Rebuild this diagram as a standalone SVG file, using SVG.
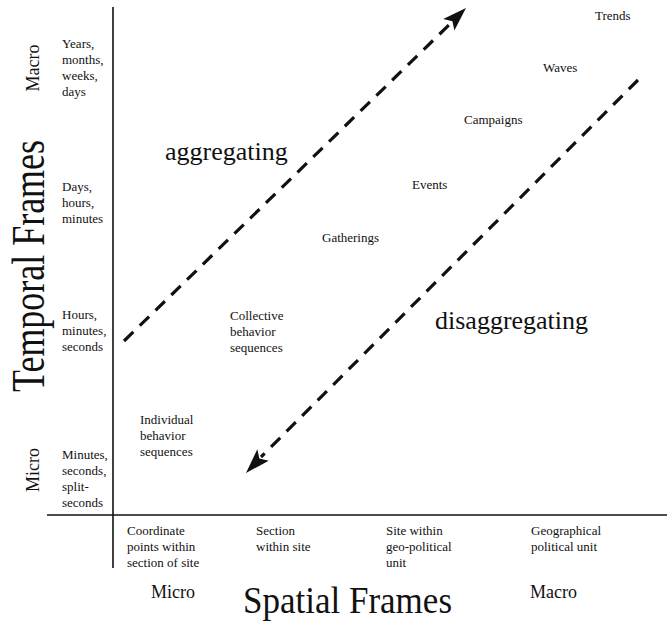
<svg xmlns="http://www.w3.org/2000/svg" width="667" height="622" viewBox="0 0 667 622">
<style>
text{font-family:"Liberation Serif","Times New Roman",serif;fill:#111}
.s{font-size:13px}
.m{font-size:18px}
.b{font-size:26px}
.ax{stroke:#111;stroke-width:1.6;fill:none}
.dash{stroke:#111;stroke-width:3.2;stroke-dasharray:13,9;fill:none}
.head{fill:#111}
</style>
<rect width="667" height="622" fill="#fff"/>
<g id="axes">
<line class="ax" x1="113" y1="7" x2="113" y2="568"/>
<line class="ax" x1="47" y1="515" x2="667" y2="515"/>
</g>
<g id="connectors">
<line class="dash" x1="124" y1="341" x2="451" y2="23"/>
<path class="head" d="M466,8 L454.4,30.5 L452.4,21.3 L443.2,19 Z"/>
<line class="dash" x1="638" y1="80" x2="261" y2="457"/>
<path class="head" d="M246,473 L257.3,449.3 L259.4,458.6 L268.7,460.7 Z"/>
</g>
<g id="temporal-axis">
<text font-size="46" transform="translate(44,392) rotate(-90)" textLength="252" lengthAdjust="spacingAndGlyphs">Temporal Frames</text>
<text class="m" transform="translate(39,68) rotate(-90)" text-anchor="middle">Macro</text>
<text class="m" transform="translate(39,470) rotate(-90)" text-anchor="middle">Micro</text>
</g>
<g id="t-years"><text class="s" x="62" y="48">Years,<tspan x="62" dy="16">months,</tspan><tspan x="62" dy="16">weeks,</tspan><tspan x="62" dy="16">days</tspan></text></g>
<g id="t-days"><text class="s" x="62" y="191">Days,<tspan x="62" dy="16">hours,</tspan><tspan x="62" dy="16">minutes</tspan></text></g>
<g id="t-hours"><text class="s" x="62" y="319">Hours,<tspan x="62" dy="16">minutes,</tspan><tspan x="62" dy="16">seconds</tspan></text></g>
<g id="t-minutes"><text class="s" x="62" y="459">Minutes,<tspan x="62" dy="16">seconds,</tspan><tspan x="62" dy="16">split-</tspan><tspan x="62" dy="16">seconds</tspan></text></g>
<g id="aggregating"><text class="b" x="165" y="160">aggregating</text></g>
<g id="disaggregating"><text class="b" x="435" y="329">disaggregating</text></g>
<g id="trends"><text class="s" x="595" y="20">Trends</text></g>
<g id="waves"><text class="s" x="543" y="72">Waves</text></g>
<g id="campaigns"><text class="s" x="464" y="124">Campaigns</text></g>
<g id="events"><text class="s" x="412" y="189">Events</text></g>
<g id="gatherings"><text class="s" x="322" y="242">Gatherings</text></g>
<g id="collective"><text class="s" x="230" y="320">Collective<tspan x="230" dy="16">behavior</tspan><tspan x="230" dy="16">sequences</tspan></text></g>
<g id="individual"><text class="s" x="140" y="424">Individual<tspan x="140" dy="16">behavior</tspan><tspan x="140" dy="16">sequences</tspan></text></g>
<g id="s-coord"><text class="s" x="127" y="535">Coordinate<tspan x="127" dy="16">points within</tspan><tspan x="127" dy="16">section of site</tspan></text></g>
<g id="s-section"><text class="s" x="256" y="535">Section<tspan x="256" dy="16">within site</tspan></text></g>
<g id="s-site"><text class="s" x="386" y="535">Site within<tspan x="386" dy="16">geo-political</tspan><tspan x="386" dy="16">unit</tspan></text></g>
<g id="s-geo"><text class="s" x="531" y="535">Geographical<tspan x="531" dy="16">political unit</tspan></text></g>
<g id="spatial-axis">
<text class="m" x="151" y="598">Micro</text>
<text font-size="37" x="243" y="613" textLength="209" lengthAdjust="spacingAndGlyphs">Spatial Frames</text>
<text class="m" x="530" y="598">Macro</text>
</g>
</svg>
